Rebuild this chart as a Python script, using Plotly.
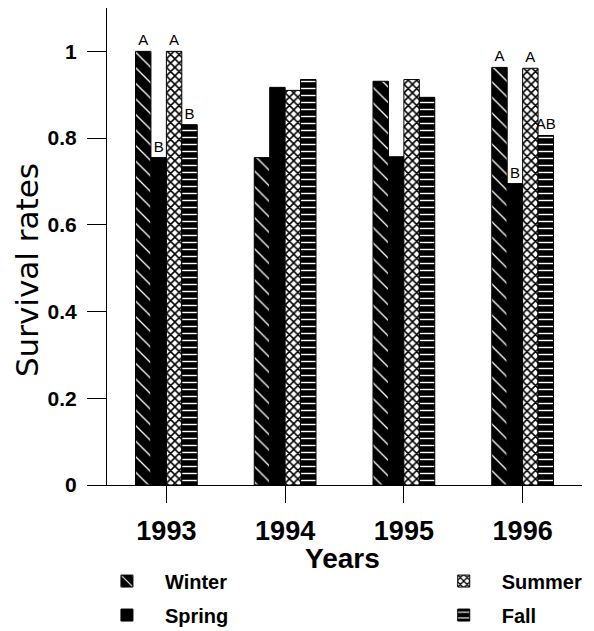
import plotly.graph_objects as go

years = ["1993", "1994", "1995", "1996"]
seasons = ["Winter", "Spring", "Summer", "Fall"]
winter = [1.0, 0.755, 0.931, 0.963]
spring = [0.755, 0.917, 0.757, 0.695]
summer = [1.0, 0.91, 0.935, 0.961]
fall = [0.831, 0.935, 0.894, 0.806]
winter_letters = ["A", "", "", "A"]
spring_letters = ["B", "", "", "B"]
summer_letters = ["A", "", "", "A"]
fall_letters = ["B", "", "", "AB"]

values = [winter, spring, summer, fall]
letters = [winter_letters, spring_letters, summer_letters, fall_letters]

patterns = [
    dict(shape="\\", fgcolor="white", bgcolor="black", size=11, solidity=0.12, fillmode="replace"),
    dict(shape="", fgcolor="black", bgcolor="black"),
    dict(shape="x", fgcolor="black", bgcolor="white", size=6, solidity=0.45, fillmode="replace"),
    dict(shape="-", fgcolor="white", bgcolor="black", size=7, solidity=0.2, fillmode="replace"),
]
legend_ids = ["legend", "legend", "legend2", "legend2"]

fig = go.Figure()
for name, vals, lets, pat, lg in zip(seasons, values, letters, patterns, legend_ids):
    fig.add_trace(go.Bar(
        x=years, y=vals, name=name,
        text=lets, textposition="outside", cliponaxis=False, constraintext="none",
        textfont=dict(family="Liberation Sans", size=15, color="black"),
        marker=dict(color="black", pattern=pat, line=dict(color="black", width=1)),
        legend=lg, legendgroup=name,
    ))

legend_font = dict(family="Liberation Sans", size=20, color="black", weight="bold")

fig.update_layout(
    width=594, height=631,
    margin=dict(l=107, r=12, t=8, b=146, autoexpand=False),
    paper_bgcolor="white", plot_bgcolor="white",
    barmode="group", bargap=0.48, bargroupgap=0,
    showlegend=True,
    font=dict(family="Liberation Sans", color="black"),
    legend=dict(x=-0.038, y=-0.1605, xanchor="left", yanchor="top",
                font=legend_font, itemwidth=66,
                tracegroupgap=5, bgcolor="rgba(0,0,0,0)"),
    legend2=dict(x=0.671, y=-0.1605, xanchor="left", yanchor="top",
                 font=legend_font, itemwidth=66,
                 tracegroupgap=5, bgcolor="rgba(0,0,0,0)"),
    annotations=[
        dict(text="Survival rates", textangle=-90, showarrow=False,
             xref="paper", yref="paper", x=-0.168, y=0.451,
             xanchor="center", yanchor="middle",
             font=dict(family="DejaVu Sans", size=31, color="black")),
        dict(text="Years", showarrow=False,
             xref="paper", yref="paper", x=0.495, y=-0.155,
             xanchor="center", yanchor="middle",
             font=dict(family="Liberation Sans", size=28, color="black", weight="bold")),
    ],
)
fig.update_xaxes(
    type="category", showline=True, linecolor="black", linewidth=1,
    ticks="outside", ticklen=17, tickcolor="black", tickwidth=1,
    tickfont=dict(family="Liberation Sans", size=27, color="black", weight="bold"),
    ticklabelstandoff=5,
    showgrid=False, automargin=False,
)
fig.update_yaxes(
    range=[0, 1.1], tickvals=[0, 0.2, 0.4, 0.6, 0.8, 1], ticktext=["0", "0.2", "0.4", "0.6", "0.8", "1"],
    showline=True, linecolor="black", linewidth=1,
    ticks="outside", ticklen=19, tickcolor="black", tickwidth=1,
    tickfont=dict(family="Liberation Sans", size=21, color="black", weight="bold"),
    ticklabelstandoff=6,
    showgrid=False, zeroline=False, automargin=False,
)

fig.write_html("out.html", config={"displayModeBar": False},
               post_script="document.body.style.margin='0';")
